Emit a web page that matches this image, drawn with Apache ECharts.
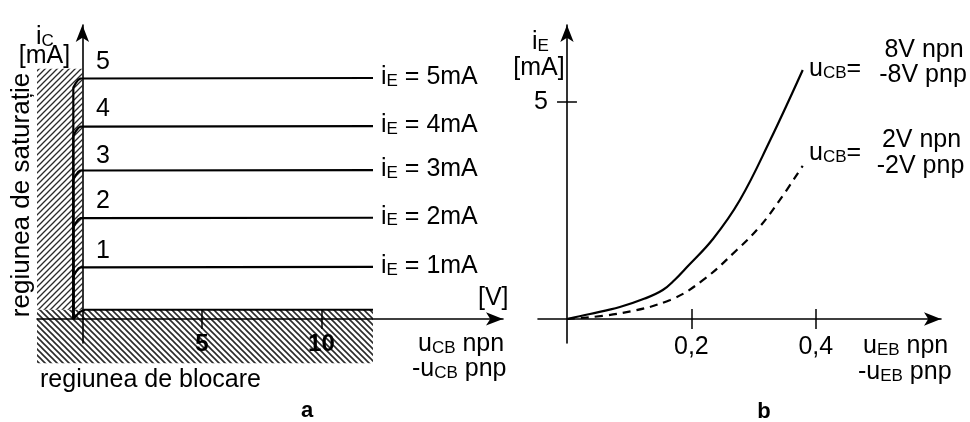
<!DOCTYPE html>
<html>
<head>
<meta charset="utf-8">
<script src="https://cdn.jsdelivr.net/npm/echarts@6/dist/echarts.min.js"></script>
<style>
  html, body { margin: 0; padding: 0; background: #fff; }
  #chart { width: 970px; height: 422px; }
</style>
</head>
<body>
<div id="chart"></div>
<script>
const FONT = '"Liberation Sans", Arial, sans-serif';

// (a) output characteristics: i_C [mA] vs u_CB [V]
const uKnee = [-0.38, -0.38, -0.27, -0.17, -0.08, 0, 12.16];
const iC5 = [0, 4.8, 4.9, 4.965, 4.99, 5.0, 5.0];
const iC4 = [0, 3.8, 3.9, 3.965, 3.99, 4.0, 4.0];
const iC3 = [0, 2.89, 2.99, 3.055, 3.08, 3.09, 3.09];
const iC2 = [0, 1.9, 2.0, 2.065, 2.09, 2.1, 2.1];
const iC1 = [0, 0.88, 0.98, 1.045, 1.07, 1.08, 1.08];
const uCut = [-0.38, -0.25, -0.1, 0.1, 12.16];
const iCut = [0, 0.07, 0.15, 0.19, 0.19];
const iELabels = ['5mA', '4mA', '3mA', '2mA', '1mA'];
const uTicksA = [5, 10];
// hatched regions [u0, i0, u1, i1]: saturation, cut-off
const satRegion = [-1.9, 0.19, 0, 5.19];
const blockRegion = [-1.9, -0.92, 12.16, 0.19];

// (b) input characteristics: i_E [mA] vs u_EB [V]
const uEB8 = [0, 0.037, 0.085, 0.125, 0.154, 0.173, 0.193, 0.235, 0.278, 0.326, 0.379];
const iE8 = [0, 0.115, 0.276, 0.47, 0.668, 0.9, 1.198, 1.85, 2.742, 4.1, 5.737];
const uEB2 = [0, 0.085, 0.166, 0.219, 0.273, 0.31, 0.342, 0.379];
const iE2 = [0, 0.13, 0.44, 0.9, 1.59, 2.13, 2.74, 3.53];
const uTicksB = [0.2, 0.4];
const iTicksB = [5];

function hatch(size, slash, lw) {
  const c = document.createElement('canvas');
  c.width = c.height = size;
  const g = c.getContext('2d');
  g.strokeStyle = '#2a2a2a';
  g.lineWidth = lw;
  g.beginPath();
  if (slash) {
    g.moveTo(0, size); g.lineTo(size, 0);
    g.moveTo(-2, 2); g.lineTo(2, -2);
    g.moveTo(size - 2, size + 2); g.lineTo(size + 2, size - 2);
  } else {
    g.moveTo(0, 0); g.lineTo(size, size);
    g.moveTo(-2, size - 2); g.lineTo(2, size + 2);
    g.moveTo(size - 2, -2); g.lineTo(size + 2, 2);
  }
  g.stroke();
  return { image: c, repeat: 'repeat' };
}
const hatchFills = [hatch(6, true, 1.3), hatch(6, false, 1.6)];

const rich = {
  m: { fontSize: 25, fontFamily: FONT, lineHeight: 29, verticalAlign: 'bottom', color: '#000', fill: '#000' },
  s: { fontSize: 17, fontFamily: FONT, lineHeight: 14, verticalAlign: 'bottom', color: '#000', fill: '#000' }
};

function pairs(xs, ys) {
  return xs.map((x, i) => [x, ys[i]]);
}

function txt(x, y, text, extra) {
  return Object.assign({
    type: 'text', x: x, y: y, silent: true,
    style: Object.assign({
      text: text, font: '25px ' + FONT, fill: '#000',
      align: 'left', verticalAlign: 'middle', rich: rich
    }, extra && extra.style)
  }, extra && extra.el);
}

const black = { color: '#000', width: 2.2 };
const axisLine = {
  onZero: true,
  symbol: ['none', 'arrow'],
  symbolSize: [10, 17],
  lineStyle: { color: '#000', width: 1.6 }
};
const tickLine = { color: '#000', width: 1.5, type: 'solid' };

const curvesA = [iC5, iC4, iC3, iC2, iC1].map((ys, k) => ({
  name: 'iE = ' + iELabels[k],
  type: 'line',
  xAxisIndex: 0, yAxisIndex: 0,
  data: pairs(uKnee, ys),
  showSymbol: false,
  lineStyle: black,
  endLabel: {
    show: true,
    distance: 8,
    offset: [0, -3],
    formatter: () => '{m|i}{s|E}{m| = ' + iELabels[k] + '}',
    rich: rich
  }
}));

const option = {
  animation: false,
  backgroundColor: '#fff',
  grid: [
    { left: 37, top: 25, width: 466, height: 318, containLabel: false, outerBoundsMode: 'none' },
    { left: 538, top: 25, width: 403, height: 318, containLabel: false, outerBoundsMode: 'none' }
  ],
  xAxis: [
    {
      gridIndex: 0, type: 'value', min: -1.9, max: 17.6, z: 3,
      axisLine: axisLine,
      axisTick: { show: false },
      splitLine: { show: false },
      axisLabel: {
        customValues: uTicksA, margin: -11,
        fontFamily: FONT, fontSize: 24, fontWeight: 'bold', color: '#000'
      }
    },
    {
      gridIndex: 1, type: 'value', min: -0.0466, max: 0.6013, z: 3,
      axisLine: axisLine,
      axisTick: { show: false },
      splitLine: { show: false },
      axisLabel: {
        customValues: uTicksB, margin: -8,
        fontFamily: FONT, fontSize: 25, color: '#000',
        formatter: (v) => String(v).replace('.', ',')
      }
    }
  ],
  yAxis: [
    {
      gridIndex: 0, type: 'value', min: -0.5, max: 6.1, z: 3,
      axisLine: axisLine,
      axisTick: { show: false },
      splitLine: { show: false },
      axisLabel: { show: false }
    },
    {
      gridIndex: 1, type: 'value', min: -0.553, max: 6.774, z: 3,
      axisLine: axisLine,
      axisTick: { show: false },
      splitLine: { show: false },
      axisLabel: {
        customValues: iTicksB, margin: -10,
        fontFamily: FONT, fontSize: 25, color: '#000'
      }
    }
  ],
  series: [
    {
      name: 'regions',
      type: 'custom',
      xAxisIndex: 0, yAxisIndex: 0,
      clip: false,
      silent: true,
      z: 1,
      data: [satRegion, blockRegion],
      renderItem: (params, api) => {
        const p0 = api.coord([api.value(0), api.value(1)]);
        const p1 = api.coord([api.value(2), api.value(3)]);
        return {
          type: 'rect',
          shape: { x: p0[0], y: p1[1], width: p1[0] - p0[0], height: p0[1] - p1[1] },
          style: { fill: hatchFills[params.dataIndex] }
        };
      }
    }
  ].concat(curvesA, [
    {
      name: 'iE = 0',
      type: 'line',
      xAxisIndex: 0, yAxisIndex: 0,
      data: pairs(uCut, iCut),
      showSymbol: false,
      lineStyle: black,
      markLine: {
        silent: true,
        symbol: ['none', 'none'],
        label: { show: false },
        lineStyle: tickLine,
        data: uTicksA.map((u) => [{ coord: [u, -0.21] }, { coord: [u, 0.19] }])
      }
    },
    {
      name: 'uCB = 8V',
      type: 'line',
      xAxisIndex: 1, yAxisIndex: 1,
      data: pairs(uEB8, iE8),
      smooth: 0.4,
      showSymbol: false,
      lineStyle: black,
      markLine: {
        silent: true,
        symbol: ['none', 'none'],
        label: { show: false },
        lineStyle: tickLine,
        data: uTicksB.map((u) => [{ coord: [u, -0.23] }, { coord: [u, 0.23] }])
          .concat(iTicksB.map((v) => [{ coord: [-0.016, v] }, { coord: [0.016, v] }]))
      }
    },
    {
      name: 'uCB = 2V',
      type: 'line',
      xAxisIndex: 1, yAxisIndex: 1,
      data: pairs(uEB2, iE2),
      smooth: 0.4,
      showSymbol: false,
      lineStyle: { color: '#000', width: 2.2, type: [8, 6] }
    }
  ]),
  graphic: [
    // panel a
    txt(36, 35.5, '{m|i}{s|C}'),
    txt(44.5, 56, '[mA]', { style: { align: 'center' } }),
    txt(22, 195, 'regiunea de saturație', { style: { align: 'center', font: '26px ' + FONT }, el: { rotation: Math.PI / 2 } }),
    txt(103, 62, '5', { style: { align: 'center' } }),
    txt(103, 109, '4', { style: { align: 'center' } }),
    txt(103, 156, '3', { style: { align: 'center' } }),
    txt(103, 201.5, '2', { style: { align: 'center' } }),
    txt(103, 251.5, '1', { style: { align: 'center' } }),
    txt(478, 298, '[V]'),
    txt(418, 342.5, '{m|u}{s|CB}{m| npn}'),
    txt(412, 367.5, '{m|-u}{s|CB}{m| pnp}'),
    txt(40, 380, 'regiunea de blocare'),
    txt(307, 411, 'a', { style: { align: 'center', font: 'bold 22px ' + FONT } }),
    // panel b
    txt(532, 40.5, '{m|i}{s|E}'),
    txt(539, 68, '[mA]', { style: { align: 'center' } }),
    txt(809, 67.5, '{m|u}{s|CB}{m|=}'),
    txt(924, 50, '8V npn', { style: { align: 'center' } }),
    txt(923, 75, '-8V pnp', { style: { align: 'center' } }),
    txt(809, 151.5, '{m|u}{s|CB}{m|=}'),
    txt(921.5, 140, '2V npn', { style: { align: 'center' } }),
    txt(920.5, 166, '-2V pnp', { style: { align: 'center' } }),
    txt(863, 344.5, '{m|u}{s|EB}{m| npn}'),
    txt(858, 370.5, '{m|-u}{s|EB}{m| pnp}'),
    txt(764, 412, 'b', { style: { align: 'center', font: 'bold 22px ' + FONT } })
  ]
};

const chart = echarts.init(document.getElementById('chart'), null, { renderer: 'canvas' });
chart.setOption(option);
</script>
</body>
</html>
